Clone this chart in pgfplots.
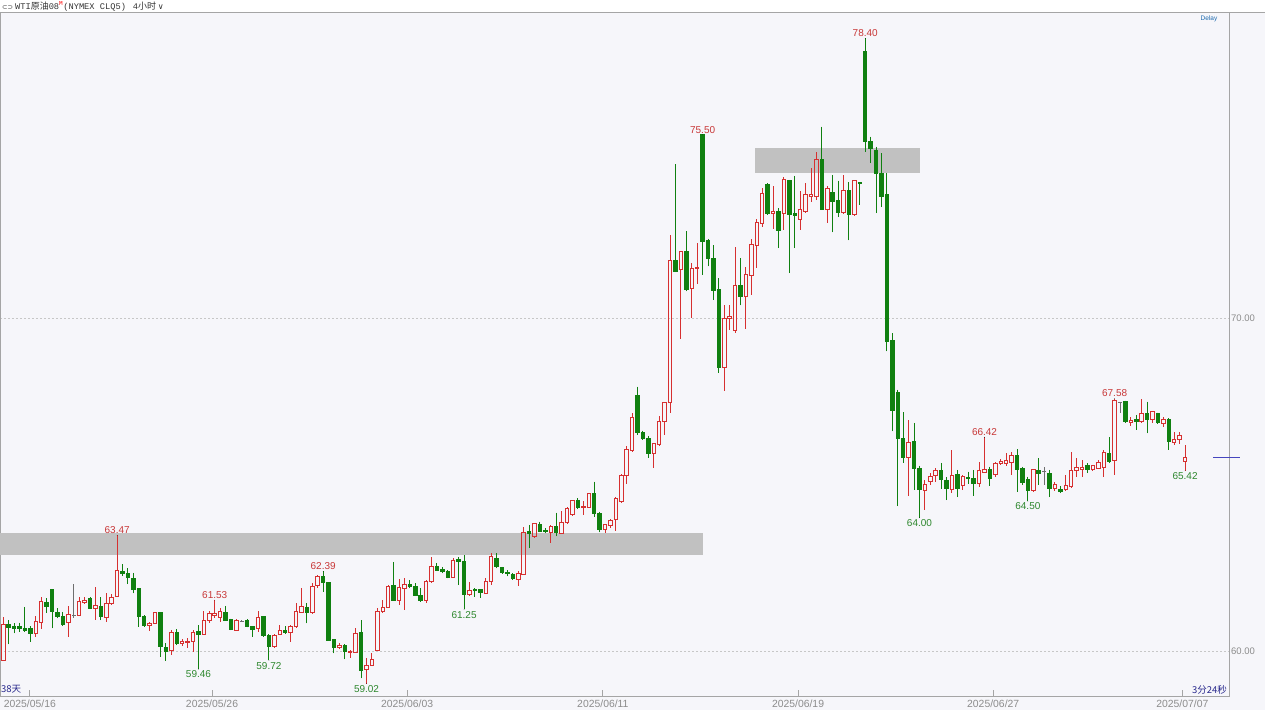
\documentclass[border=0pt]{standalone}
\usepackage{pgfplots}
\pgfplotsset{compat=1.18}
\usepackage{pgfplotstable}
\usepgfplotslibrary{statistics}
\usepackage{fontspec}
\setmainfont{Liberation Sans}
\setmonofont{Liberation Mono}
\newfontfamily\cjk{Noto Sans CJK SC}
\newfontfamily\dejavu{DejaVu Sans}

\definecolor{bg}{RGB}{246,246,250}
\definecolor{upred}{RGB}{214,48,48}
\definecolor{dngreen}{RGB}{16,128,16}
\definecolor{dojigray}{RGB}{110,110,110}
\definecolor{lblred}{RGB}{200,55,55}
\definecolor{lblgreen}{RGB}{45,135,45}
\definecolor{band}{RGB}{193,193,193}
\definecolor{axgray}{RGB}{165,165,165}
\definecolor{ticktext}{RGB}{140,140,140}
\definecolor{navy}{RGB}{40,40,140}
\definecolor{lastblue}{RGB}{70,70,190}

\pgfplotsset{
  upc/.style={draw=upred, fill=none, line width=1pt, solid},
  dnc/.style={draw=dngreen, fill=dngreen, line width=1pt, solid},
  djc/.style={draw=dojigray, fill=none, line width=1pt, solid},
}

\begin{document}
% 4h bars: index, open, high, low, close
\pgfplotstableread{
n o h l c
1 59.71 61.01 59.71 60.80
2 60.80 60.93 60.20 60.71
3 60.73 60.83 60.53 60.68
4 60.75 60.85 60.58 60.67
5 60.67 61.33 60.58 60.63
6 60.68 60.75 60.28 60.53
7 60.53 61.05 60.43 60.88
8 60.86 61.61 60.65 61.48
9 61.47 61.58 61.15 61.33
10 61.85 61.85 60.68 61.18
11 61.15 61.28 60.98 61.05
12 61.03 61.18 60.75 60.81
13 60.85 61.35 60.41 61.11
14 61.08 62.00 60.98 61.08
15 61.07 61.61 61.05 61.50
16 61.45 61.63 61.41 61.53
17 61.57 61.61 61.26 61.28
18 61.28 61.93 60.93 61.37
19 61.35 61.61 60.93 61.03
20 61.01 61.73 60.88 61.43
21 61.43 61.71 61.37 61.60
22 61.63 63.47 61.63 62.41
23 62.40 62.61 62.25 62.33
24 62.33 62.48 62.01 62.20
25 62.18 62.35 61.73 61.85
26 61.88 61.88 60.73 61.05
27 61.05 61.08 60.73 60.78
28 60.76 60.88 60.61 60.83
29 60.83 61.17 60.83 61.17
30 61.17 61.17 59.83 60.13
31 60.10 60.23 59.71 60.00
32 60.03 60.63 59.88 60.56
33 60.56 60.65 60.18 60.23
34 60.23 60.35 60.15 60.28
35 60.26 60.38 60.08 60.30
36 60.28 60.63 59.98 60.56
37 60.58 60.78 59.46 60.50
38 60.50 61.21 60.50 60.93
39 60.91 61.21 60.85 61.13
40 61.08 61.53 60.98 61.13
41 61.01 61.28 60.88 61.20
42 61.16 61.36 60.91 60.93
43 60.95 60.97 60.63 60.65
44 60.63 60.95 60.61 60.91
45 60.90 60.92 60.87 60.90
46 60.93 60.96 60.71 60.75
47 60.73 60.75 60.43 60.65
48 60.68 61.21 60.58 61.01
49 61.03 61.03 60.43 60.48
50 60.48 60.50 59.72 60.13
51 60.13 60.51 60.11 60.48
52 60.51 60.78 60.48 60.63
53 60.61 60.75 60.53 60.55
54 60.55 60.78 60.28 60.75
55 60.73 61.43 60.71 61.18
56 61.17 61.88 61.15 61.33
57 61.31 61.45 60.83 61.15
58 61.15 62.03 61.13 61.95
59 61.97 62.28 61.88 62.23
60 62.23 62.39 61.78 62.05
61 62.06 62.06 60.33 60.33
62 60.35 60.35 59.93 60.11
63 60.10 60.23 60.05 60.18
64 60.18 60.21 59.75 59.98
65 59.95 60.03 59.80 60.00
66 59.95 60.68 59.95 60.53
67 60.55 60.93 59.18 59.43
68 59.45 59.78 59.02 59.58
69 59.58 59.95 59.56 59.75
70 60.01 61.28 60.01 61.18
71 61.18 61.53 61.13 61.31
72 61.31 61.98 61.31 61.95
73 61.96 62.68 61.53 61.53
74 61.53 62.15 61.38 61.90
75 61.88 62.20 61.23 62.01
76 62.00 62.13 61.88 61.93
77 61.95 62.03 61.65 61.68
78 61.68 61.88 61.50 61.51
79 61.53 62.13 61.43 62.08
80 62.08 62.81 62.05 62.55
81 62.55 62.65 62.41 62.43
82 62.45 62.53 62.33 62.40
83 62.40 62.43 62.18 62.21
84 62.21 62.78 62.21 62.73
85 62.76 62.81 61.98 62.68
86 62.68 62.88 61.25 61.71
87 61.71 62.08 61.65 61.81
88 61.85 61.88 61.63 61.81
89 61.85 61.85 61.60 61.75
90 61.73 62.18 61.71 62.08
91 62.08 62.93 61.98 62.83
92 62.78 62.93 62.48 62.53
93 62.50 62.53 62.33 62.35
94 62.36 62.42 62.24 62.32
95 62.29 62.34 62.14 62.19
96 62.16 62.39 61.94 62.34
97 62.31 63.74 62.29 63.56
98 63.58 63.79 63.09 63.52
99 63.44 63.86 63.39 63.84
100 63.81 63.89 63.57 63.59
101 63.62 63.69 63.54 63.59
102 63.56 63.79 63.24 63.74
103 63.74 64.16 63.44 63.56
104 63.54 64.22 63.52 63.86
105 63.86 64.34 63.84 64.29
106 64.09 64.54 64.06 64.51
107 64.51 64.59 64.26 64.31
108 64.31 64.52 64.09 64.34
109 64.32 64.76 64.31 64.74
110 64.74 65.09 64.04 64.12
111 64.14 64.19 63.56 63.64
112 63.64 63.82 63.54 63.79
113 63.76 63.96 63.69 63.92
114 63.94 64.62 63.59 64.57
115 64.49 65.31 64.46 65.27
116 65.27 66.16 65.03 66.04
117 66.02 67.14 65.99 67.02
118 67.66 67.94 66.50 66.56
119 66.56 66.62 66.35 66.39
120 66.39 66.46 65.80 65.92
121 65.92 66.26 65.51 66.22
122 66.19 67.06 66.16 66.89
123 66.89 67.49 66.49 67.46
124 67.46 72.50 67.14 71.72
125 71.72 74.62 71.38 71.40
126 71.45 72.02 69.38 72.00
127 72.00 72.60 70.80 70.85
128 70.88 71.65 70.00 71.50
129 71.50 72.25 71.02 71.53
130 75.50 75.50 71.30 72.30
131 72.32 72.38 71.55 71.78
132 71.80 72.18 70.55 70.82
133 70.85 71.20 68.35 68.52
134 68.50 70.40 67.82 70.00
135 70.00 70.40 69.65 70.05
136 69.62 72.12 69.55 70.98
137 70.98 71.80 70.38 70.65
138 70.65 71.52 69.68 71.30
139 71.28 72.38 70.68 72.20
140 72.18 72.98 71.50 72.88
141 72.85 73.90 72.73 73.75
142 74.00 74.05 73.10 73.15
143 73.13 73.95 72.67 73.20
144 73.20 73.30 72.10 72.63
145 73.15 74.25 72.63 74.15
146 74.13 74.15 71.35 73.10
147 73.13 74.27 72.10 73.09
148 72.95 73.80 72.63 73.25
149 73.20 74.05 73.15 73.70
150 73.65 74.50 73.47 73.70
151 73.65 75.00 73.55 74.75
152 74.75 75.75 73.25 73.27
153 73.27 73.95 72.85 73.88
154 73.77 74.30 72.57 73.50
155 73.53 74.13 73.03 73.17
156 73.17 74.30 73.13 73.83
157 73.83 74.07 72.33 73.10
158 73.10 74.15 73.07 74.12
159 74.08 74.08 73.40 74.04
160 78.00 78.40 75.00 75.30
161 75.30 75.45 74.65 75.10
162 75.03 75.15 73.15 74.35
163 74.35 74.95 73.33 73.65
164 73.70 74.35 69.00 69.30
165 69.33 69.55 66.60 67.23
166 67.75 67.85 64.35 66.37
167 66.37 67.17 65.65 65.80
168 65.80 66.95 64.67 66.27
169 66.30 66.85 64.85 65.47
170 65.47 65.57 64.00 64.85
171 64.83 65.15 64.25 65.00
172 65.10 65.35 65.00 65.25
173 65.27 65.50 65.07 65.43
174 65.43 65.65 64.87 65.15
175 65.13 65.23 64.53 64.87
176 64.85 66.03 64.75 65.27
177 65.29 65.44 64.62 64.89
178 64.96 65.29 64.84 65.24
179 65.22 65.39 65.02 65.17
180 65.17 65.44 64.66 65.02
181 65.04 65.69 64.94 65.42
182 65.37 66.42 65.34 65.46
183 65.46 65.54 64.96 65.19
184 65.29 65.69 65.24 65.64
185 65.64 65.76 65.59 65.69
186 65.64 65.96 65.56 65.71
187 65.66 65.99 65.29 65.86
188 65.86 66.06 64.79 65.46
189 65.49 65.54 64.99 65.06
190 65.14 65.24 64.50 64.82
191 64.82 65.46 64.79 65.44
192 65.41 65.79 64.99 65.34
193 65.39 65.52 64.99 65.39
194 65.32 65.44 64.62 64.89
195 64.89 65.09 64.82 64.99
196 64.86 64.96 64.74 64.79
197 64.84 65.29 64.82 64.96
198 64.94 65.99 64.92 65.42
199 65.42 65.79 65.24 65.52
200 65.46 65.74 65.24 65.52
201 65.56 65.64 65.34 65.46
202 65.46 65.59 65.42 65.56
203 65.49 65.74 65.46 65.66
204 65.52 66.04 65.24 65.96
205 65.92 66.42 65.64 65.69
206 65.72 67.58 65.29 67.52
207 67.46 67.49 67.14 67.46
208 67.49 67.52 66.86 66.89
209 66.86 67.04 66.76 66.92
210 66.94 67.09 66.64 66.89
211 66.89 67.56 66.86 67.14
212 67.14 67.49 66.54 66.94
213 66.94 67.22 66.84 67.19
214 67.14 67.16 66.84 66.86
215 66.84 67.04 66.74 66.96
216 66.96 66.99 66.04 66.29
217 66.26 66.59 66.19 66.36
218 66.34 66.59 66.22 66.47
219 65.69 66.19 65.42 65.82
}\candles

\begin{tikzpicture}
% page background and header strip (1pt = 1px of the reference)
\fill[bg] (0,-14pt) rectangle (1265pt,696pt);
\fill[white] (0,684pt) rectangle (1265pt,696pt);

\begin{axis}[
    at={(0,0)}, anchor=south west,
    scale only axis, width=1229pt, height=684pt,
    xmin=0.39, xmax=227.1, ymin=58.65, ymax=79.19,
    clip=false,
    axis line style={draw=axgray, line width=0.8pt},
    xtick={5.9,39.5,75.5,111.6,147.6,183.6,218.5},
    xticklabels={2025/05/16,2025/05/26,2025/06/03,2025/06/11,2025/06/19,2025/06/27,2025/07/07},
    xtick pos=bottom, tick align=inside, major tick length=6pt,
    xtick style={draw=axgray, line width=0.8pt},
    xticklabel style={font=\fontsize{10.4}{12}\selectfont, text=ticktext, anchor=base, inner sep=0pt, yshift=-11pt},
    ytick={60,70}, yticklabels={60.00,70.00},
    ytick pos=right, ytick style={draw=none},
    yticklabel style={font=\fontsize{9.5}{11}\selectfont, text=ticktext, anchor=west, inner sep=0pt, xshift=2pt},
    ymajorgrids, grid style={draw=black!22, dash pattern=on 2pt off 2pt, line width=0.7pt},
    boxplot/draw direction=y,
    boxplot/box extend=0.62, boxplot/whisker extend=0,
  ]

  % support / resistance zones
  \fill[band] (axis cs:0.39,62.88) rectangle (axis cs:130.1,63.54);
  \fill[band] (axis cs:139.7,74.35) rectangle (axis cs:170.1,75.11);

  % one candle per row
  \pgfplotsforeachungrouped \ci in {0,...,218}{%
    \pgfplotstablegetelem{\ci}{n}\of\candles\let\cn\pgfplotsretval
    \pgfplotstablegetelem{\ci}{o}\of\candles\let\co\pgfplotsretval
    \pgfplotstablegetelem{\ci}{h}\of\candles\let\chi\pgfplotsretval
    \pgfplotstablegetelem{\ci}{l}\of\candles\let\clo\pgfplotsretval
    \pgfplotstablegetelem{\ci}{c}\of\candles\let\cc\pgfplotsretval
    \pgfmathsetmacro\cbot{min(\co,\cc)}%
    \pgfmathsetmacro\ctop{max(\co,\cc)}%
    \pgfmathtruncatemacro\cdir{(\cc>\co)+2*(\cc<\co)}%
    \ifcase\cdir \def\cstyle{djc}\or \def\cstyle{upc}\or \def\cstyle{dnc}\fi
    \edef\cmd{\noexpand\addplot[\cstyle, forget plot, boxplot prepared={draw direction=y, draw position=\cn, box extend=0.64, whisker extend=0, lower whisker=\clo, lower quartile=\cbot, median=\cbot, upper quartile=\ctop, upper whisker=\chi}] coordinates {};}%
    \cmd
  }

  % high / low labels
  \addplot[only marks, mark=*, mark size=0.01pt, mark options={draw=none, fill=none}, forget plot,
    point meta=explicit symbolic, nodes near coords,
    nodes near coords style={anchor=south, text=lblred, font=\fontsize{10}{12}\selectfont, inner sep=1.5pt}]
    coordinates {(22,63.47) [63.47] (40,61.53) [61.53] (60,62.39) [62.39] (130,75.50) [75.50]
                 (160,78.40) [78.40] (182,66.42) [66.42] (206,67.58) [67.58]};
  \addplot[only marks, mark=*, mark size=0.01pt, mark options={draw=none, fill=none}, forget plot,
    point meta=explicit symbolic, nodes near coords,
    nodes near coords style={anchor=north, text=lblgreen, font=\fontsize{10}{12}\selectfont, inner sep=1.5pt}]
    coordinates {(37,59.46) [59.46] (50,59.72) [59.72] (68,59.02) [59.02] (86,61.25) [61.25]
                 (170,64.00) [64.00] (190,64.50) [64.50] (219,65.42) [65.42]};

  % last price marker
  \addplot[draw=lastblue, line width=1pt, forget plot] coordinates {(224.2,65.82) (229.2,65.82)};
\end{axis}

\draw[axgray, line width=0.8pt] (0,684pt) -- (1265pt,684pt);
\node[anchor=west, inner sep=0pt, text=black!80] at (2pt,690pt)
  {{\dejavu\fontsize{6.5}{7}\selectfont ⊂⊃}\hspace{2pt}{\ttfamily\fontsize{8.7}{10}\selectfont WTI}{\cjk\fontsize{9}{10}\selectfont 原油}{\ttfamily\fontsize{8.7}{10}\selectfont 08\textsuperscript{\color{red}M}(NYMEX CLQ5)\hspace{7pt}4}{\cjk\fontsize{9}{10}\selectfont 小时}\,{\dejavu\fontsize{8}{9}\selectfont ∨}};
\node[text=navy!70!cyan, inner sep=0pt] at (1209pt,677pt) {\fontsize{6.5}{7}\selectfont Delay};
\node[anchor=west, text=navy, inner sep=0pt] at (1pt,7pt) {\cjk\fontsize{9.5}{11}\selectfont 38天};
\node[anchor=east, text=navy, inner sep=0pt] at (1227pt,6pt) {\cjk\fontsize{9.5}{11}\selectfont 3分24秒};

\pgfresetboundingbox
\path[use as bounding box] (0,-14pt) rectangle (1265pt,696pt);
\end{tikzpicture}
\end{document}
